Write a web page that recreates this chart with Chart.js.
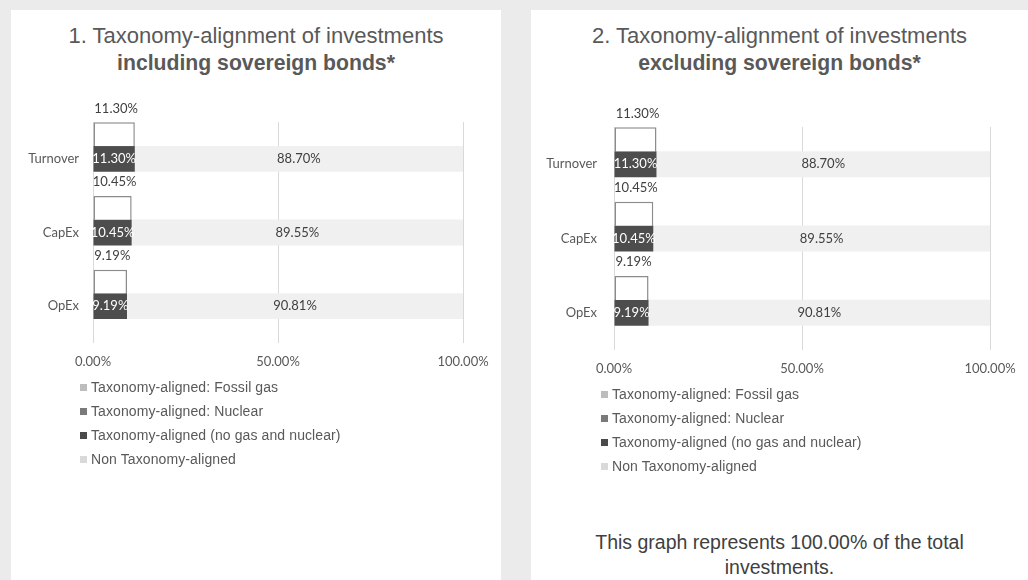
<!DOCTYPE html>
<html>
<head>
<meta charset="utf-8">
<script src="https://cdn.jsdelivr.net/npm/chart.js@4.4.1/dist/chart.umd.min.js"></script>
<style>
  body {
    margin: 0;
    width: 1028px;
    height: 580px;
    overflow: hidden;
    position: relative;
    background: #ebebeb;
    font-family: "Liberation Sans", Arial, sans-serif;
  }
  .panel {
    position: absolute;
    top: 10px;
    height: 570px;
    background: #fff;
  }
  #panelIncl { left: 11px; width: 490px; }
  #panelExcl { left: 531px; width: 497px; }
  .title {
    position: absolute;
    left: 0;
    top: 12px;
    width: 100%;
    text-align: center;
    font-size: 22px;
    line-height: 27px;
    color: #595959;
  }
  .title b { font-size: 21.2px; }
  .panel canvas { position: absolute; left: 0; }
  #chartIncl { top: 80px; }
  #chartExcl { top: 85px; }
  .legend {
    position: absolute;
    font-size: 14px;
    color: #595959;
  }
  #legendIncl { left: 69px; top: 365px; }
  #legendExcl { left: 70px; top: 372px; }
  .legend .item {
    height: 24px;
    display: flex;
    align-items: center;
    white-space: nowrap;
    letter-spacing: 0.1px;
  }
  .legend .swatch {
    width: 7px;
    height: 7px;
    margin-right: 4px;
  }
  .note {
    position: absolute;
    left: 0;
    top: 520px;
    width: 100%;
    text-align: center;
    font-size: 19.5px;
    line-height: 25px;
    color: #404040;
  }
</style>
</head>
<body>
  <div class="panel" id="panelIncl">
    <div class="title">1. Taxonomy-alignment of investments<br><b>including sovereign bonds*</b></div>
    <canvas id="chartIncl" width="490" height="290"></canvas>
    <div class="legend" id="legendIncl"></div>
  </div>
  <div class="panel" id="panelExcl">
    <div class="title">2. Taxonomy-alignment of investments<br><b>excluding sovereign bonds*</b></div>
    <canvas id="chartExcl" width="497" height="290"></canvas>
    <div class="legend" id="legendExcl"></div>
    <div class="note">This graph represents 100.00% of the total<br>investments.</div>
  </div>

<script>
const categories = ["Turnover", "CapEx", "OpEx"];
const xTickValues = [0, 50, 100];
const seriesLabels = [
  "Taxonomy-aligned: Fossil gas",
  "Taxonomy-aligned: Nuclear",
  "Taxonomy-aligned (no gas and nuclear)",
  "Non Taxonomy-aligned",
];

// including sovereign bonds
const totalAlignedIncl = [11.30, 10.45, 9.19];
const fossilGasIncl = [0, 0, 0];
const nuclearIncl = [0, 0, 0];
const alignedIncl = [11.30, 10.45, 9.19];
const nonAlignedIncl = [88.70, 89.55, 90.81];

// excluding sovereign bonds
const totalAlignedExcl = [11.30, 10.45, 9.19];
const fossilGasExcl = [0, 0, 0];
const nuclearExcl = [0, 0, 0];
const alignedExcl = [11.30, 10.45, 9.19];
const nonAlignedExcl = [88.70, 89.55, 90.81];

const axisFont = { family: "Lato", size: 13 };
const gridColor = "#d9d9d9";
const textColor = "#595959";

function formatPercent(value) {
  return `${value.toFixed(2)}%`;
}

// value labels: inside the bar, centred on it, or above the outlined total box
const barLabels = {
  id: "barLabels",
  afterDatasetsDraw(chart) {
    const ctx = chart.ctx;
    chart.data.datasets.forEach((dataset, i) => {
      if (!dataset.labelStyle) return;
      const meta = chart.getDatasetMeta(i);
      meta.data.forEach((bar, j) => {
        const value = dataset.data[j];
        if (!value) return;
        const { x, y, base, height } = bar.getProps(["x", "y", "base", "height"], true);
        const cx = (x + base) / 2;
        ctx.save();
        ctx.font = "13px Lato";
        ctx.textAlign = "center";
        ctx.textBaseline = "middle";
        if (dataset.labelStyle === "above") {
          ctx.fillStyle = "#404040";
          ctx.fillText(formatPercent(value), cx + 2, y - height / 2 - 14);
        } else {
          ctx.fillStyle = dataset.labelStyle === "inside" ? "#ffffff" : "#404040";
          ctx.fillText(formatPercent(value), cx, y);
        }
        ctx.restore();
      });
    });
  },
};

function buildDatasets(total, fossil, nuclear, aligned, nonAligned) {
  return [
    {
      label: "Total taxonomy-aligned",
      data: total,
      stack: "total",
      backgroundColor: "#ffffff",
      borderColor: "#8c8c8c",
      borderWidth: 1.5,
      borderSkipped: "bottom",
      barPercentage: 0.97,
      labelStyle: "above",
    },
    {
      label: seriesLabels[0],
      data: fossil,
      stack: "split",
      backgroundColor: "#bdbdbd",
      barPercentage: 1.05,
      inflateAmount: 0,
      inLegend: true,
    },
    {
      label: seriesLabels[1],
      data: nuclear,
      stack: "split",
      backgroundColor: "#7a7a7a",
      barPercentage: 1.05,
      inflateAmount: 0,
      inLegend: true,
    },
    {
      label: seriesLabels[2],
      data: aligned,
      stack: "split",
      backgroundColor: "#4d4d4d",
      legendColor: "#4a4a4a",
      barPercentage: 1.05,
      labelStyle: "inside",
      inLegend: true,
    },
    {
      label: seriesLabels[3],
      data: nonAligned,
      stack: "split",
      backgroundColor: "#f0f0f0",
      legendColor: "#d9d9d9",
      barPercentage: 1.05,
      labelStyle: "center",
      inLegend: true,
    },
    {
      // empty third group keeps the split bar centred on its category
      label: "",
      data: [0, 0, 0],
      stack: "spacer",
      backgroundColor: "rgba(0,0,0,0)",
      inflateAmount: 0,
    },
  ];
}

function renderLegend(chart, elementId) {
  document.getElementById(elementId).innerHTML = chart.data.datasets
    .filter((dataset) => dataset.inLegend)
    .map(
      (dataset) => `
        <div class="item">
          <span class="swatch" style="background:${dataset.legendColor || dataset.backgroundColor}"></span>
          <span>${dataset.label}</span>
        </div>
      `,
    )
    .join("");
}

function createChart(canvasId, datasets, yWidth, xHeight, labelGap) {
  return new Chart(document.getElementById(canvasId), {
    type: "bar",
    data: { labels: categories, datasets },
    plugins: [barLabels],
    options: {
      indexAxis: "y",
      responsive: false,
      animation: false,
      categoryPercentage: 1.0,
      layout: { padding: { top: 32, right: 38, left: 0, bottom: 0 } },
      plugins: {
        legend: { display: false },
        tooltip: { enabled: false },
      },
      scales: {
        x: {
          stacked: true,
          min: 0,
          max: 100,
          afterBuildTicks: (scale) => {
            scale.ticks = xTickValues.map((value) => ({ value }));
          },
          afterFit: (scale) => {
            scale.height = xHeight;
          },
          grid: { color: gridColor, drawTicks: false },
          border: { display: false },
          ticks: {
            color: textColor,
            font: axisFont,
            padding: 11,
            maxRotation: 0,
            callback: (value) => formatPercent(value),
          },
        },
        y: {
          stacked: true,
          afterFit: (scale) => {
            scale.width = yWidth;
          },
          grid: { display: false, drawTicks: false },
          border: { display: false },
          ticks: { color: textColor, font: axisFont, padding: labelGap },
        },
      },
    },
  });
}

document.fonts.load("13px Lato").finally(() => {
  const chartIncl = createChart(
    "chartIncl",
    buildDatasets(totalAlignedIncl, fossilGasIncl, nuclearIncl, alignedIncl, nonAlignedIncl),
    82,
    37,
    14,
  );
  const chartExcl = createChart(
    "chartExcl",
    buildDatasets(totalAlignedExcl, fossilGasExcl, nuclearExcl, alignedExcl, nonAlignedExcl),
    83,
    35,
    17,
  );
  renderLegend(chartIncl, "legendIncl");
  renderLegend(chartExcl, "legendExcl");
});
</script>
</body>
</html>
